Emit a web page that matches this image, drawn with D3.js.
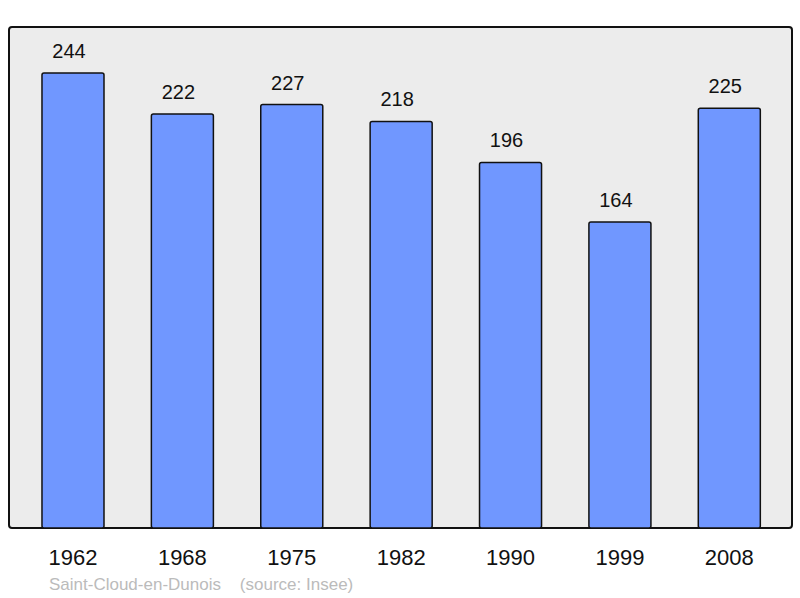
<!DOCTYPE html>
<html><head><meta charset="utf-8">
<script src="https://cdn.jsdelivr.net/npm/d3@7"></script>
<style>body{margin:0;background:#fff}svg{display:block;font-family:"Liberation Sans",Arial,sans-serif}</style>
</head><body>
<script>
const years = ["1962","1968","1975","1982","1990","1999","2008"];
const population = [244,222,227,218,196,164,225];
const caption = "Saint-Cloud-en-Dunois    (source: Insee)";

const W = 800, H = 598;
const svg = d3.select("body").append("svg").attr("width", W).attr("height", H);

const frame = {x0: 9, y0: 27, x1: 792, y1: 528};
svg.append("rect").attr("x", frame.x0).attr("y", frame.y0)
  .attr("width", frame.x1 - frame.x0).attr("height", frame.y1 - frame.y0)
  .attr("rx", 3).attr("fill", "#ececec").attr("stroke", "#111").attr("stroke-width", 2);

const x = d3.scaleBand().domain(years).range([18.3, 784]).paddingInner(0.433).paddingOuter(0.2165);
const y = d3.scaleLinear().domain([0, 268.6]).range([frame.y1, frame.y0]);

svg.selectAll("rect.bar").data(population).join("rect").attr("class", "bar")
  .attr("x", (d, i) => x(years[i])).attr("width", x.bandwidth())
  .attr("y", d => y(d)).attr("height", d => y(0) - y(d))
  .attr("rx", 2).attr("fill", "#7097ff").attr("stroke", "#111").attr("stroke-width", 1.5);

svg.selectAll("text.val").data(population).join("text").attr("class", "val")
  .attr("x", (d, i) => x(years[i]) + x.bandwidth() / 2 - 4)
  .attr("y", d => y(d) - 15)
  .attr("text-anchor", "middle").attr("font-size", 20).attr("fill", "#111")
  .text(d => d);

svg.selectAll("text.year").data(years).join("text").attr("class", "year")
  .attr("x", d => x(d) + x.bandwidth() / 2).attr("y", 565)
  .attr("text-anchor", "middle").attr("font-size", 22).attr("fill", "#111")
  .text(d => d);

svg.append("text").attr("x", 49).attr("y", 590).attr("font-size", 17)
  .attr("fill", "#bbb").attr("xml:space", "preserve").style("white-space", "pre").text(caption);
</script>
</body></html>
